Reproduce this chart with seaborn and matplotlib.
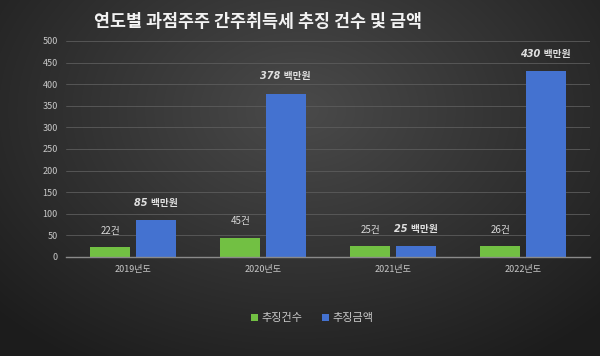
import numpy as np
import pandas as pd
import matplotlib
matplotlib.use("Agg")
import matplotlib.pyplot as plt
import seaborn as sns

years = ["2019년도", "2020년도", "2021년도", "2022년도"]
counts = [22, 45, 25, 26]
amounts = [85, 378, 25, 430]
series_names = ["추징건수", "추징금액"]
count_labels = ["22건", "45건", "25건", "26건"]
amount_labels = ["85 백만원", "378 백만원", "25 백만원", "430 백만원"]
title = "연도별 과점주주 간주취득세 추징 건수 및 금액"
yticks = [0, 50, 100, 150, 200, 250, 300, 350, 400, 450, 500]

sns.set_theme(style="dark")
plt.rcParams['font.family'] = ['Noto Sans CJK KR', 'DejaVu Sans']

df = pd.DataFrame({
    "year": years * 2,
    "value": counts + amounts,
    "series": [series_names[0]] * 4 + [series_names[1]] * 4,
})

fig = plt.figure(figsize=(6, 3.56), dpi=100)

# background radial gradient
bg = fig.add_axes([0, 0, 1, 1], zorder=-10)
yy, xx = np.mgrid[0:356, 0:600]
d = np.sqrt(((xx - 300) / 420.0) ** 2 + ((yy - 110) / 300.0) ** 2)
d = np.clip(d, 0, 1)
c0 = np.array([0x4a, 0x4a, 0x4a]) / 255
c1 = np.array([0x1c, 0x1c, 0x1c]) / 255
img = c0[None, None, :] * (1 - d[..., None]) + c1[None, None, :] * d[..., None]
bg.imshow(img, aspect="auto", extent=[0, 1, 0, 1])
bg.axis("off")

ax = fig.add_axes([66 / 600, 1 - 257 / 356, (590 - 66) / 600, (257 - 41) / 356])
ax.patch.set_alpha(0)

palette = {series_names[0]: "#72c043", series_names[1]: "#4472d0"}
sns.barplot(data=df, x="year", y="value", hue="series", palette=palette,
            width=0.7, gap=0.12, ax=ax, saturation=1, legend=True,
            linewidth=0, edgecolor="none")

ax.set_xlim(-0.515, 3.515)
ax.set_ylim(0, 500)
ax.set_yticks(yticks)
ax.set_yticklabels([str(t) for t in yticks])
ax.grid(axis="y", color="#5c5c5c", linewidth=0.6)
ax.grid(axis="x", visible=False)
for s in ["top", "right", "left"]:
    ax.spines[s].set_visible(False)
ax.spines["bottom"].set_color("#8a8a8a")
ax.spines["bottom"].set_linewidth(1.0)
ax.tick_params(axis="both", colors="#c8c8c8", labelsize=6.5, length=0, pad=6)
ax.set_xlabel("")
ax.set_ylabel("")

# data labels
for bar, lab in zip(ax.containers[0], count_labels):
    ax.annotate(lab, (bar.get_x() + bar.get_width() / 2, bar.get_height()),
                xytext=(0, 8), textcoords="offset points",
                ha="center", va="bottom", fontsize=7, color="#d8d8d8")
for bar, lab in zip(ax.containers[1], amount_labels):
    ax.annotate(lab, (bar.get_x() + bar.get_width() / 2, bar.get_height()),
                xytext=(0, 9), textcoords="offset points",
                ha="center", va="bottom", fontsize=7, color="#e0e0e0",
                fontweight="bold", fontstyle="italic",
                family=['DejaVu Sans', 'Noto Sans CJK KR'])

leg = ax.legend(loc="center", bbox_to_anchor=(312 / 600, 1 - 318 / 356),
                bbox_transform=fig.transFigure, ncol=2, frameon=False,
                fontsize=8, handlelength=0.6, handleheight=0.6, handletextpad=0.3,
                columnspacing=1.8)
for t in leg.get_texts():
    t.set_color("#c8c8c8")

fig.text(258 / 600, 1 - 22 / 356, title, ha="center", va="center",
         fontsize=12.5, fontweight="bold", color="#f2f2f2")

fig.savefig("out.png", dpi=100)
